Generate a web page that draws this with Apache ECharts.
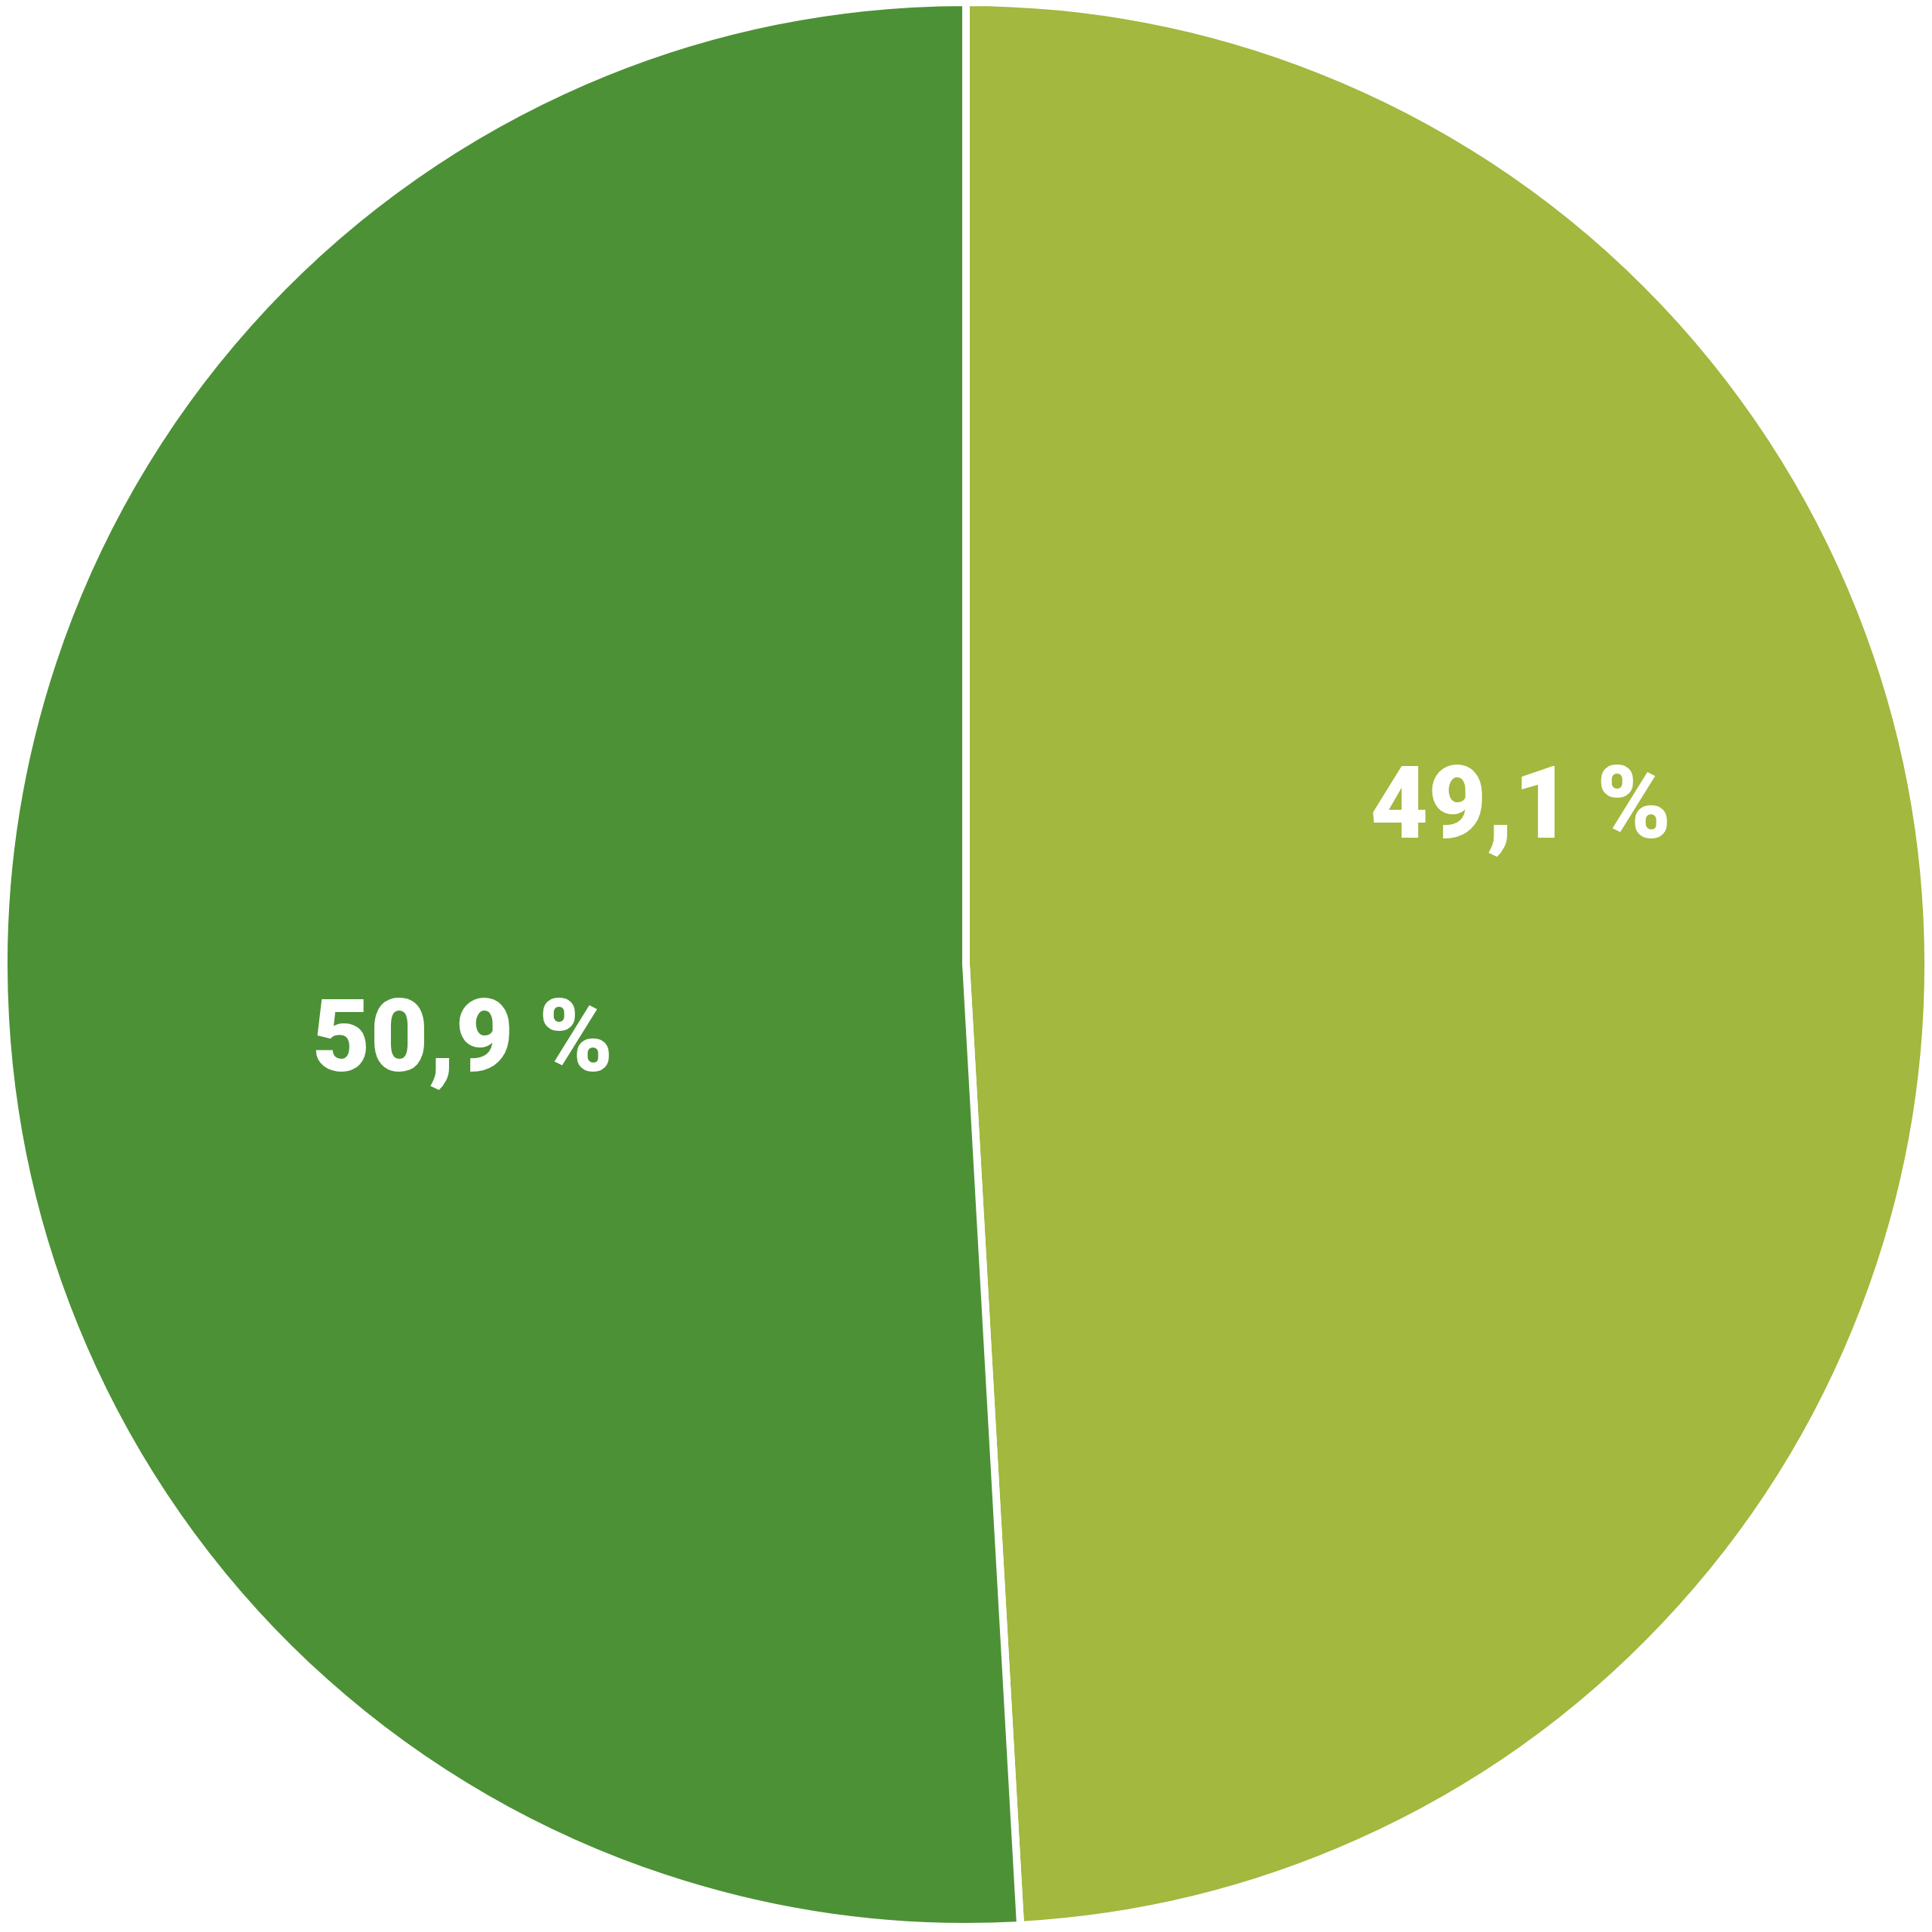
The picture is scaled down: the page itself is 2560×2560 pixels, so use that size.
<!DOCTYPE html>
<html>
<head>
<meta charset="utf-8">
<script src="https://cdn.jsdelivr.net/npm/echarts@6/dist/echarts.min.js"></script>
<style>
  html, body { margin: 0; padding: 0; background: #ffffff; }
  #chart { width: 2560px; height: 2560px; }
</style>
</head>
<body>
<div id="chart"></div>
<script>
  // shares in percent, clockwise from 12 o'clock
  var categories = ['A', 'B']
  var shares = [49.1, 50.9]
  var labels = ['49,1 %', '50,9 %']
  var colors = ['#a2b83e', '#4d9136']
  // label anchor points (px)
  var labelPos = [[2015, 1077], [613, 1386]]

  var chart = echarts.init(document.getElementById('chart'))
  chart.setOption({
    animation: false,
    series: [
      {
        type: 'pie',
        center: [1280, 1278],
        radius: [0, 1275],
        startAngle: 90,
        clockwise: true,
        silent: true,
        itemStyle: {
          borderColor: '#ffffff',
          borderWidth: 10
        },
        label: {
          show: true,
          position: 'inside',
          color: '#ffffff',
          fontFamily: 'Roboto, "Liberation Sans", sans-serif',
          fontWeight: 900,
          fontSize: 133,
          formatter: function (p) { return labels[p.dataIndex] }
        },
        labelLine: { show: false },
        labelLayout: function (p) {
          return { x: labelPos[p.dataIndex][0], y: labelPos[p.dataIndex][1], align: 'center', verticalAlign: 'middle' }
        },
        data: categories.map(function (c, i) {
          return { name: c, value: shares[i], itemStyle: { color: colors[i] } }
        })
      }
    ]
  })
</script>
</body>
</html>
